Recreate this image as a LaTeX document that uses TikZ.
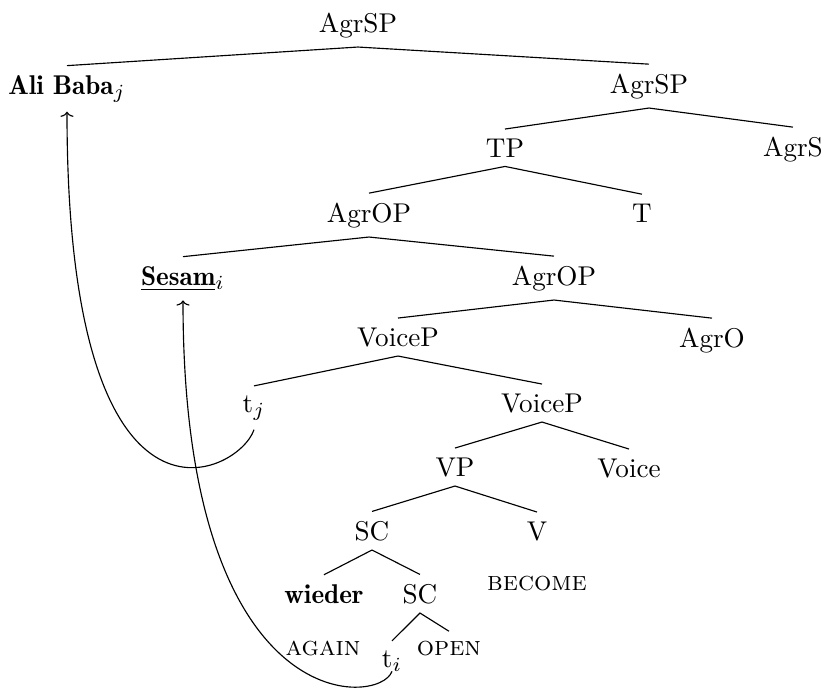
\documentclass[tikz,border=0pt]{standalone}
\usetikzlibrary{arrows.meta}
\newcommand{\bfd}[1]{{\fontseries{b}\selectfont #1}}
\begin{document}
\begin{tikzpicture}[x=0.35pt,y=-0.35pt,
  tn/.style={anchor=base,inner sep=3.1pt,font=\fontsize{9.5}{11}\selectfont},
  edge/.style={line width=0.4pt},
  mv/.style={line width=0.4pt,-{To[width=4.6pt,length=1.8pt]}}]
\useasboundingbox (0,0) rectangle (825,687);
\node[tn] (n1) at (358,32) {AgrSP};
\node[tn] (alibaba) at (67,94) {\bfd{Ali Baba}$_j$};
\node[tn] (n2) at (649,93) {AgrSP};
\node[tn] (tp) at (505,157) {TP};
\node[tn] (agrs) at (793,156) {AgrS};
\node[tn] (n3) at (369,222) {AgrOP};
\node[tn] (t) at (642,222) {T};
\node[tn] (sesam) at (183,285) {\underline{\bfd{Sesam}}$_i$};
\node[tn] (n4) at (554,285) {AgrOP};
\node[tn] (vp1) at (398,346) {VoiceP};
\node[tn] (agro) at (712,347) {AgrO};
\node[tn] (tj) at (254,412) {t$_j$};
\node[tn] (vp2) at (542,412) {VoiceP};
\node[tn] (vp) at (455,476) {VP};
\node[tn] (voice) at (629,477) {Voice};
\node[tn] (sc1) at (372,540) {SC};
\node[tn] (v) at (537,540) {V};
\node[tn] (become) at (537,590) {\textsc{become}};
\node[tn] (wieder) at (324,603) {\bfd{wieder}};
\node[tn] (sc2) at (420,603) {SC};
\node[tn] (again) at (323,655) {\textsc{again}};
\node[tn] (ti) at (392,667) {t$_i$};
\node[tn] (open) at (449,655) {\textsc{open}};
\draw[edge] (alibaba.north) -- (n1.south) -- (n2.north);
\draw[edge] (tp.north) -- (n2.south) -- (agrs.north);
\draw[edge] (n3.north) -- (tp.south) -- (t.north);
\draw[edge] (sesam.north) -- (n3.south) -- (n4.north);
\draw[edge] (vp1.north) -- (n4.south) -- (agro.north);
\draw[edge] (tj.north) -- (vp1.south) -- (vp2.north);
\draw[edge] (vp.north) -- (vp2.south) -- (voice.north);
\draw[edge] (sc1.north) -- (vp.south) -- (v.north);
\draw[edge] (wieder.north) -- (sc1.south) -- (sc2.north);
\draw[edge] (ti.north) -- (sc2.south) -- (open.north);
\draw[mv] (tj.south) .. controls +(-15,45) and +(0,450) .. (alibaba.south);
\draw[mv] ([yshift=-1.5pt]ti.base) .. controls +(-12,35) and +(0,420) .. (sesam.south);
\end{tikzpicture}
\end{document}
